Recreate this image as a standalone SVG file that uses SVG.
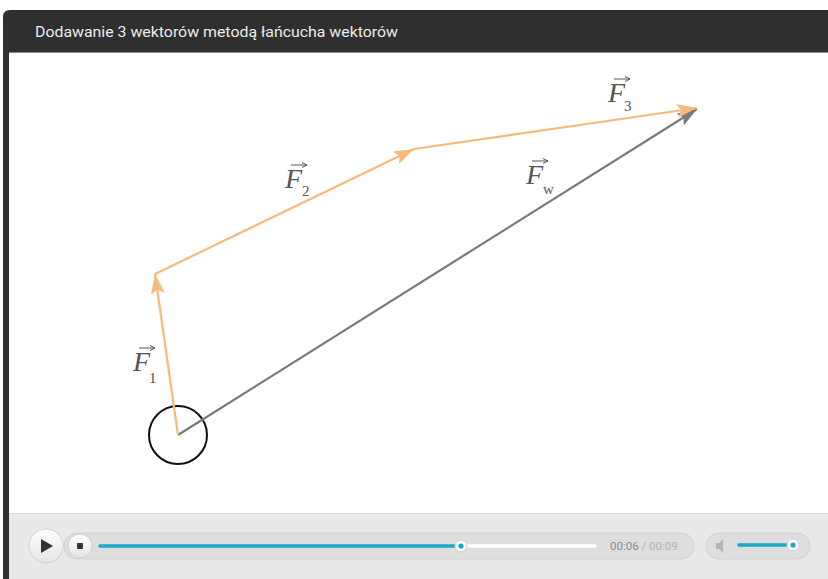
<svg xmlns="http://www.w3.org/2000/svg" width="828" height="579" viewBox="0 0 828 579">
<defs>
<style>
.vec{stroke:#f8b97c;stroke-width:2.2;fill:none}
.res{stroke:#7a7a7a;stroke-width:2.2;fill:none}
.lbl{font-family:"Liberation Serif",serif;font-style:italic;font-size:28px;fill:#555}
.sub{font-family:"Liberation Serif",serif;font-size:15px;fill:#555}
.ov{stroke:#555;stroke-width:1;fill:none}
.time{font-family:"Roboto","Liberation Sans",sans-serif;font-size:11.5px}
</style>
<marker id="ao" markerWidth="22" markerHeight="16" refX="20" refY="8" orient="auto" markerUnits="userSpaceOnUse">
<path d="M0,1 L20,8 L0,15 L4,8 Z" fill="#f8b97c"/>
</marker>
<marker id="ag" markerWidth="22" markerHeight="16" refX="20" refY="8" orient="auto" markerUnits="userSpaceOnUse">
<path d="M0,1 L20,8 L0,15 L4,8 Z" fill="#7a7a7a"/>
</marker>
<marker id="sm" markerWidth="6" markerHeight="6" refX="5" refY="3" orient="auto" markerUnits="userSpaceOnUse">
<path d="M0,0.5 L5,3 L0,5.5" fill="none" stroke="#555" stroke-width="1"/>
</marker>
<linearGradient id="btn" x1="0" y1="0" x2="0" y2="1">
<stop offset="0" stop-color="#ffffff"/>
<stop offset="1" stop-color="#e4e4e4"/>
</linearGradient>
</defs>

<g id="frame">
<path d="M3,579 V17 Q3,10 10,10 H828 V579 Z" fill="#2f2f2f"/>
<rect x="9" y="52" width="819" height="461" fill="#ffffff"/>
<line x1="9" y1="52.5" x2="828" y2="52.5" stroke="#8a8a8a" stroke-width="1"/>
<text x="35" y="37" font-family="Roboto,'Liberation Sans',sans-serif" font-size="14.5" fill="#ececec" textLength="363" lengthAdjust="spacingAndGlyphs">Dodawanie 3 wektorów metodą łańcucha wektorów</text>
</g>

<g id="controls">
<rect x="9" y="513" width="819" height="66" fill="#e9e9e9"/>
<line x1="9" y1="513.5" x2="828" y2="513.5" stroke="#d8d8d8"/>
<rect x="64" y="533" width="630" height="26" rx="13" fill="#dedede" stroke="#d2d2d2"/>
<circle cx="46" cy="546" r="17" fill="url(#btn)" stroke="#d0d0d0"/>
<path d="M41,539 L53,546 L41,553 Z" fill="#333"/>
<circle cx="80" cy="546" r="12" fill="url(#btn)" stroke="#d0d0d0"/>
<rect x="77" y="543" width="6" height="6" rx="1" fill="#333"/>
<line x1="100" y1="546" x2="461" y2="546" stroke="#1aa9c7" stroke-width="3.5" stroke-linecap="round"/>
<line x1="461" y1="546" x2="595" y2="546" stroke="#ffffff" stroke-width="3.5" stroke-linecap="round"/>
<circle cx="461" cy="546" r="6" fill="#fafafa" stroke="#cfcfcf"/>
<circle cx="461" cy="546" r="2.6" fill="#1aa9c7"/>
<text x="610" y="550" class="time" fill="#8a8a8a">00:06 <tspan fill="#b0b0b0">/ 00:09</tspan></text>
<rect x="706" y="533" width="104" height="26" rx="13" fill="#dedede" stroke="#d2d2d2"/>
<path d="M716,543 H719 L723,539 V553 L719,549 H716 Z" fill="#b5b5b5"/>
<line x1="739" y1="545" x2="793" y2="545" stroke="#1aa9c7" stroke-width="3.5" stroke-linecap="round"/>
<circle cx="793" cy="545" r="6" fill="#fafafa" stroke="#cfcfcf"/>
<circle cx="793" cy="545" r="2.6" fill="#1aa9c7"/>
</g>

<g id="origin">
<circle cx="178" cy="435" r="29" fill="none" stroke="#111" stroke-width="2"/>
</g>

<g id="connectors">
<line id="Fw" class="res" x1="178" y1="435" x2="697" y2="109" marker-end="url(#ag)"/>
<line id="F1" class="vec" x1="178" y1="435" x2="155" y2="274" marker-end="url(#ao)"/>
<line id="F2" class="vec" x1="155" y1="274" x2="414" y2="149" marker-end="url(#ao)"/>
<line id="F3" class="vec" x1="414" y1="149" x2="697" y2="108" marker-end="url(#ao)"/>
</g>

<g id="label-F1">
<text class="lbl" x="133" y="371">F</text>
<text class="sub" x="149" y="383">1</text>
<line class="ov" x1="139" y1="348" x2="155" y2="348" marker-end="url(#sm)"/>
</g>
<g id="label-F2">
<text class="lbl" x="285" y="188">F</text>
<text class="sub" x="302" y="196">2</text>
<line class="ov" x1="291" y1="165" x2="307" y2="165" marker-end="url(#sm)"/>
</g>
<g id="label-F3">
<text class="lbl" x="608" y="102">F</text>
<text class="sub" x="624" y="111">3</text>
<line class="ov" x1="614" y1="79" x2="630" y2="79" marker-end="url(#sm)"/>
</g>
<g id="label-Fw">
<text class="lbl" x="526" y="184">F</text>
<text class="sub" x="543" y="194">w</text>
<line class="ov" x1="532" y1="161" x2="548" y2="161" marker-end="url(#sm)"/>
</g>
</svg>
